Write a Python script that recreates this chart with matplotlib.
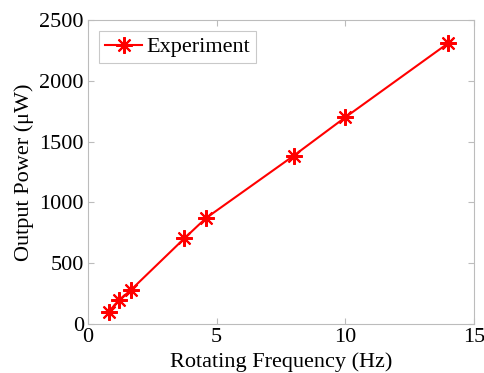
import matplotlib
matplotlib.use("Agg")
import matplotlib.pyplot as plt

freq = [0.8, 1.2, 1.67, 3.75, 4.58, 8.0, 10.0, 14.0]
power = [100, 195, 280, 705, 870, 1385, 1700, 2310]
xticks = [0, 5, 10, 15]
yticks = [0, 500, 1000, 1500, 2000, 2500]

plt.rcParams['font.family'] = ['Liberation Serif', 'DejaVu Serif']
fig = plt.figure(figsize=(4.85, 3.73), dpi=100)
ax = fig.add_axes([0.1814, 0.1314, 0.977 - 0.1814, 0.946 - 0.1314])
ax.plot(freq, power, color='red', marker=(8, 2, 0), markersize=12, markeredgewidth=1.5,
        linewidth=1.5, label='Experiment')
ax.set_xlim(0, 15)
ax.set_ylim(0, 2500)
ax.set_xticks(xticks)
ax.set_yticks(yticks)
ax.tick_params(direction='in', top=True, right=True, labelsize=16, color='#bcbcbc', length=4, pad=3)
for s in ax.spines.values():
    s.set_color('#bcbcbc')
ax.set_xlabel('Rotating Frequency (Hz)', fontsize=16, labelpad=4)
ax.set_ylabel('Output Power (μW)', fontsize=16, labelpad=4)
leg = ax.legend(loc='upper left', fontsize=16, fancybox=False, handlelength=1.7,
                borderpad=0.25, handletextpad=0.2, borderaxespad=0.5)
leg.get_frame().set_edgecolor('#bcbcbc')
leg.get_frame().set_linewidth(0.8)
fig.savefig('out.png', dpi=100)
